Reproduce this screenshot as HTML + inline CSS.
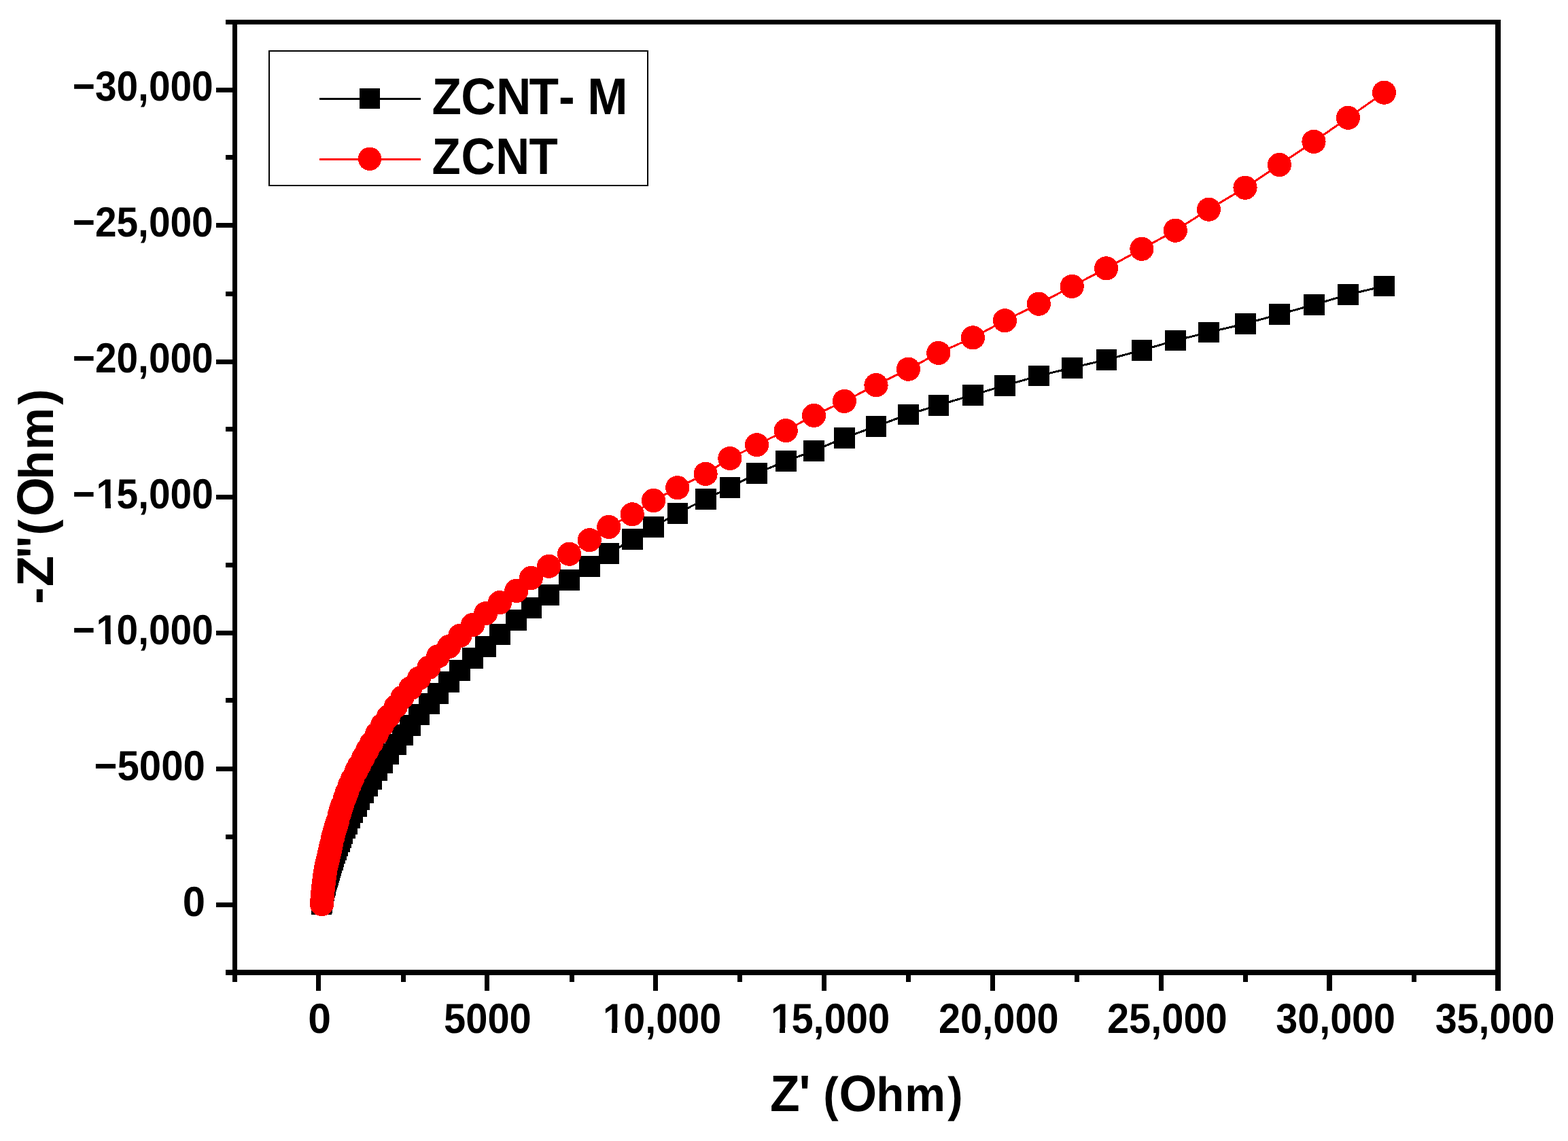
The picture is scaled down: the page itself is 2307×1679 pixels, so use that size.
<!DOCTYPE html>
<html lang="en"><head><meta charset="utf-8"><title>Nyquist plot: ZCNT-M vs ZCNT</title>
<style>
html,body{margin:0;padding:0;background:#fff}
svg{display:block}
svg text{font-family:"Liberation Sans",Arial,Helvetica,sans-serif;font-weight:bold;fill:#000}
</style></head>
<body>
<svg width="2307" height="1679" viewBox="0 0 2307 1679" shape-rendering="crispEdges" text-rendering="geometricPrecision">
<rect x="0" y="0" width="2307" height="1679" fill="#fff"/>
<g id="frame">
<rect x="342" y="29" width="7" height="1406" fill="#000"/>
<rect x="2200" y="29" width="8" height="1406" fill="#000"/>
<rect x="342" y="29" width="1866" height="7" fill="#000"/>
<rect x="342" y="1427" width="1866" height="8" fill="#000"/>
</g>
<g id="ticks">
<rect x="332" y="29" width="10" height="7" fill="#000"/>
<rect x="318" y="129" width="24" height="7" fill="#000"/>
<rect x="332" y="228" width="10" height="7" fill="#000"/>
<rect x="318" y="328" width="24" height="7" fill="#000"/>
<rect x="332" y="429" width="10" height="7" fill="#000"/>
<rect x="318" y="529" width="24" height="7" fill="#000"/>
<rect x="332" y="628" width="10" height="7" fill="#000"/>
<rect x="318" y="728" width="24" height="7" fill="#000"/>
<rect x="332" y="828" width="10" height="7" fill="#000"/>
<rect x="318" y="928" width="24" height="7" fill="#000"/>
<rect x="332" y="1027" width="10" height="7" fill="#000"/>
<rect x="318" y="1128" width="24" height="7" fill="#000"/>
<rect x="332" y="1228" width="10" height="7" fill="#000"/>
<rect x="318" y="1328" width="24" height="7" fill="#000"/>
<rect x="332" y="1427" width="10" height="8" fill="#000"/>
<rect x="342" y="1435" width="7" height="10" fill="#000"/>
<rect x="465" y="1435" width="7" height="23" fill="#000"/>
<rect x="590" y="1435" width="7" height="10" fill="#000"/>
<rect x="713" y="1435" width="7" height="23" fill="#000"/>
<rect x="838" y="1435" width="7" height="10" fill="#000"/>
<rect x="961" y="1435" width="7" height="23" fill="#000"/>
<rect x="1085" y="1435" width="7" height="10" fill="#000"/>
<rect x="1209" y="1435" width="7" height="23" fill="#000"/>
<rect x="1333" y="1435" width="7" height="10" fill="#000"/>
<rect x="1457" y="1435" width="7" height="23" fill="#000"/>
<rect x="1581" y="1435" width="7" height="10" fill="#000"/>
<rect x="1705" y="1435" width="7" height="23" fill="#000"/>
<rect x="1829" y="1435" width="7" height="10" fill="#000"/>
<rect x="1952" y="1435" width="8" height="23" fill="#000"/>
<rect x="2077" y="1435" width="7" height="10" fill="#000"/>
<rect x="2200" y="1435" width="8" height="23" fill="#000"/>
</g>
<g id="tick-labels">
<text transform="matrix(0.56826 0 0 0.61831 106.73 148.18)" font-size="100" xml:space="preserve">−30,000</text>
<text transform="matrix(0.56826 0 0 0.61831 106.73 348.18)" font-size="100" xml:space="preserve">−25,000</text>
<text transform="matrix(0.56826 0 0 0.61831 106.73 548.18)" font-size="100" xml:space="preserve">−20,000</text>
<text transform="matrix(0.56826 0 0 0.61831 106.73 748.18)" font-size="100" xml:space="preserve" dx="0 3 -3">−15,000</text>
<text transform="matrix(0.56826 0 0 0.61831 106.73 947.88)" font-size="100" xml:space="preserve" dx="0 3 -3">−10,000</text>
<text transform="matrix(0.58095 0 0 0.61831 138.58 1147.68)" font-size="100" xml:space="preserve">−5000</text>
<text transform="matrix(0.59789 0 0 0.61831 268.71 1347.58)" font-size="100" xml:space="preserve">0</text>
<text transform="matrix(0.60632 0 0 0.61831 453.17 1520.38)" font-size="100" xml:space="preserve">0</text>
<text transform="matrix(0.57865 0 0 0.61831 653.06 1520.38)" font-size="100" xml:space="preserve">5000</text>
<text transform="matrix(0.57504 0 0 0.61831 885.24 1520.38)" font-size="100" xml:space="preserve" dx="3 -3">10,000</text>
<text transform="matrix(0.57880 0 0 0.61831 1132.20 1520.38)" font-size="100" xml:space="preserve" dx="3 -3">15,000</text>
<text transform="matrix(0.57755 0 0 0.61831 1380.98 1520.38)" font-size="100" xml:space="preserve">20,000</text>
<text transform="matrix(0.57789 0 0 0.61831 1628.98 1520.38)" font-size="100" xml:space="preserve">25,000</text>
<text transform="matrix(0.57396 0 0 0.61831 1877.37 1520.38)" font-size="100" xml:space="preserve">30,000</text>
<text transform="matrix(0.57462 0 0 0.61831 2111.66 1520.38)" font-size="100" xml:space="preserve">35,000</text>
<g id="glyph-trim" fill="#fff"><rect x="143.53" y="740.06" width="11.35" height="11.12"/><rect x="162.68" y="740.06" width="10.63" height="11.12"/><rect x="143.53" y="939.76" width="11.35" height="11.12"/><rect x="162.68" y="939.76" width="10.63" height="11.12"/><rect x="888.90" y="1512.26" width="11.48" height="11.12"/><rect x="908.27" y="1512.26" width="10.75" height="11.12"/><rect x="1135.89" y="1512.26" width="11.56" height="11.12"/><rect x="1155.39" y="1512.26" width="10.82" height="11.12"/></g>
</g>
<g id="legend-labels">
<text transform="matrix(0.71190 0 0 0.76058 635.56 167.90)" font-size="100" xml:space="preserve" dx="0 -1 0.2 -4.1 5.6 0 -1.5">ZCNT- M</text>
<text transform="matrix(0.69184 0 0 0.75620 635.62 256.00)" font-size="100" xml:space="preserve" dx="0 1 1 -1">ZCNT</text>
</g>
<g id="axis-titles">
<text transform="matrix(0.71491 0 0 0.75620 1133.06 1634.80)" font-size="100" xml:space="preserve" dx="0 -1.6 0 -1.6 1.1 -1.2 1.2 4.6">Z' <tspan font-size="94">(</tspan>O<tspan font-size="94">hm)</tspan></text>
<text transform="matrix(0 -0.74526 0.75912 0 78.30 889.08)" font-size="100" xml:space="preserve" dx="0 1.5 -5.5 -3.1 1.0 6.1 -5.3 1.3 5.6">-Z''<tspan font-size="94">(</tspan>O<tspan font-size="94">hm)</tspan></text>
</g>
<g id="legend">
<rect x="396" y="75" width="557" height="197.5" fill="none" stroke="#000" stroke-width="2"/>
<rect x="470" y="143.5" width="149" height="3" fill="#000"/>
<rect x="529" y="130" width="30" height="30" fill="#000"/>
<rect x="470" y="232.5" width="149" height="3" fill="#f00"/>
<circle cx="544" cy="233.8" r="17.2" fill="#f00"/>
</g>
<g id="series-zcnt-m">
<polyline points="2036.5,421.0 1983.6,433.4 1933.4,448.4 1882.6,462.4 1832.5,476.3 1778.5,488.9 1729.5,501.0 1680.1,515.3 1628.0,529.3 1577.2,541.2 1528.3,553.1 1478.4,567.2 1431.4,581.2 1380.8,596.2 1336.4,609.8 1289.0,627.2 1242.5,644.2 1197.6,663.3 1156.5,678.4 1113.5,696.4 1074.0,717.4 1038.4,734.3 996.9,755.2 961.6,775.3 930.7,793.3 896.0,814.5 867.5,833.3 837.5,853.4 807.6,875.3 781.8,894.5 759.5,912.4 735.6,933.4 714.5,951.3 695.5,968.5 676.6,986.5 660.4,1003.2 644.4,1020.2 631.4,1035.2 616.4,1051.2 603.5,1067.2 592.5,1081.5 582.4,1095.2 571.5,1109.3 562.5,1122.4 554.5,1133.3 546.5,1146.4 540.4,1156.3 534.4,1166.4 528.5,1176.3 524.5,1186.3 518.5,1195.3 514.4,1203.2 510.5,1212.2 507.4,1218.2 503.5,1226.8 501.5,1232.4 499.5,1238.3 496.5,1244.8 494.5,1250.5 492.4,1255.4 490.5,1260.4 489.5,1265.4 487.5,1269.6 486.5,1273.5 485.4,1276.7 484.5,1280.5 483.5,1283.6 482.4,1287.7 481.5,1290.5 480.5,1294.0 479.8,1297.0 479.0,1300.0 478.3,1303.0 477.7,1306.0 477.1,1308.5 476.5,1311.0 476.0,1313.5 475.5,1316.0 475.0,1318.0 474.6,1320.0 474.2,1322.0 474.0,1324.0 473.7,1325.5 473.5,1327.0 473.3,1328.3 473.1,1329.3 473.0,1330.5" fill="none" stroke="#000" stroke-width="3"/>
<g fill="#000"><rect x="2021.2" y="405.7" width="30.6" height="30.6"/><rect x="1968.3" y="418.1" width="30.6" height="30.6"/><rect x="1918.1" y="433.1" width="30.6" height="30.6"/><rect x="1867.3" y="447.1" width="30.6" height="30.6"/><rect x="1817.2" y="461.0" width="30.6" height="30.6"/><rect x="1763.2" y="473.6" width="30.6" height="30.6"/><rect x="1714.2" y="485.7" width="30.6" height="30.6"/><rect x="1664.8" y="500.0" width="30.6" height="30.6"/><rect x="1612.7" y="514.0" width="30.6" height="30.6"/><rect x="1561.9" y="525.9" width="30.6" height="30.6"/><rect x="1513.0" y="537.8" width="30.6" height="30.6"/><rect x="1463.1" y="551.9" width="30.6" height="30.6"/><rect x="1416.1" y="565.9" width="30.6" height="30.6"/><rect x="1365.5" y="580.9" width="30.6" height="30.6"/><rect x="1321.1" y="594.5" width="30.6" height="30.6"/><rect x="1273.7" y="611.9" width="30.6" height="30.6"/><rect x="1227.2" y="628.9" width="30.6" height="30.6"/><rect x="1182.3" y="648.0" width="30.6" height="30.6"/><rect x="1141.2" y="663.1" width="30.6" height="30.6"/><rect x="1098.2" y="681.1" width="30.6" height="30.6"/><rect x="1058.7" y="702.1" width="30.6" height="30.6"/><rect x="1023.1" y="719.0" width="30.6" height="30.6"/><rect x="981.6" y="739.9" width="30.6" height="30.6"/><rect x="946.3" y="760.0" width="30.6" height="30.6"/><rect x="915.4" y="778.0" width="30.6" height="30.6"/><rect x="880.7" y="799.2" width="30.6" height="30.6"/><rect x="852.2" y="818.0" width="30.6" height="30.6"/><rect x="822.2" y="838.1" width="30.6" height="30.6"/><rect x="792.3" y="860.0" width="30.6" height="30.6"/><rect x="766.5" y="879.2" width="30.6" height="30.6"/><rect x="744.2" y="897.1" width="30.6" height="30.6"/><rect x="720.3" y="918.1" width="30.6" height="30.6"/><rect x="699.2" y="936.0" width="30.6" height="30.6"/><rect x="680.2" y="953.2" width="30.6" height="30.6"/><rect x="661.3" y="971.2" width="30.6" height="30.6"/><rect x="645.1" y="987.9" width="30.6" height="30.6"/><rect x="629.1" y="1004.9" width="30.6" height="30.6"/><rect x="616.1" y="1019.9" width="30.6" height="30.6"/><rect x="601.1" y="1035.9" width="30.6" height="30.6"/><rect x="588.2" y="1051.9" width="30.6" height="30.6"/><rect x="577.2" y="1066.2" width="30.6" height="30.6"/><rect x="567.1" y="1079.9" width="30.6" height="30.6"/><rect x="556.2" y="1094.0" width="30.6" height="30.6"/><rect x="547.2" y="1107.1" width="30.6" height="30.6"/><rect x="539.2" y="1118.0" width="30.6" height="30.6"/><rect x="531.2" y="1131.1" width="30.6" height="30.6"/><rect x="525.1" y="1141.0" width="30.6" height="30.6"/><rect x="519.1" y="1151.1" width="30.6" height="30.6"/><rect x="513.2" y="1161.0" width="30.6" height="30.6"/><rect x="509.2" y="1171.0" width="30.6" height="30.6"/><rect x="503.2" y="1180.0" width="30.6" height="30.6"/><rect x="499.1" y="1187.9" width="30.6" height="30.6"/><rect x="495.2" y="1196.9" width="30.6" height="30.6"/><rect x="492.1" y="1202.9" width="30.6" height="30.6"/><rect x="488.2" y="1211.5" width="30.6" height="30.6"/><rect x="486.2" y="1217.1" width="30.6" height="30.6"/><rect x="484.2" y="1223.0" width="30.6" height="30.6"/><rect x="481.2" y="1229.5" width="30.6" height="30.6"/><rect x="479.2" y="1235.2" width="30.6" height="30.6"/><rect x="477.1" y="1240.1" width="30.6" height="30.6"/><rect x="475.2" y="1245.1" width="30.6" height="30.6"/><rect x="474.2" y="1250.1" width="30.6" height="30.6"/><rect x="472.2" y="1254.3" width="30.6" height="30.6"/><rect x="471.2" y="1258.2" width="30.6" height="30.6"/><rect x="470.1" y="1261.4" width="30.6" height="30.6"/><rect x="469.2" y="1265.2" width="30.6" height="30.6"/><rect x="468.2" y="1268.3" width="30.6" height="30.6"/><rect x="467.1" y="1272.4" width="30.6" height="30.6"/><rect x="466.2" y="1275.2" width="30.6" height="30.6"/><rect x="465.2" y="1278.7" width="30.6" height="30.6"/><rect x="464.5" y="1281.7" width="30.6" height="30.6"/><rect x="463.7" y="1284.7" width="30.6" height="30.6"/><rect x="463.0" y="1287.7" width="30.6" height="30.6"/><rect x="462.4" y="1290.7" width="30.6" height="30.6"/><rect x="461.8" y="1293.2" width="30.6" height="30.6"/><rect x="461.2" y="1295.7" width="30.6" height="30.6"/><rect x="460.7" y="1298.2" width="30.6" height="30.6"/><rect x="460.2" y="1300.7" width="30.6" height="30.6"/><rect x="459.7" y="1302.7" width="30.6" height="30.6"/><rect x="459.3" y="1304.7" width="30.6" height="30.6"/><rect x="458.9" y="1306.7" width="30.6" height="30.6"/><rect x="458.7" y="1308.7" width="30.6" height="30.6"/><rect x="458.4" y="1310.2" width="30.6" height="30.6"/><rect x="458.2" y="1311.7" width="30.6" height="30.6"/><rect x="458.0" y="1313.0" width="30.6" height="30.6"/><rect x="457.8" y="1314.0" width="30.6" height="30.6"/><rect x="457.7" y="1315.2" width="30.6" height="30.6"/></g>
</g>
<g id="series-zcnt">
<polyline points="2036.5,136.2 1983.4,173.3 1933.0,208.4 1882.4,242.5 1832.0,276.2 1778.5,308.2 1729.3,339.2 1679.9,366.3 1627.6,394.9 1577.2,421.4 1528.3,447.2 1478.4,471.7 1431.4,496.9 1380.8,519.4 1336.4,543.2 1289.0,566.7 1242.4,590.4 1197.5,611.4 1156.2,633.6 1113.5,654.7 1073.9,674.5 1038.1,697.4 996.8,717.7 961.5,736.5 930.2,756.8 895.7,775.4 867.3,794.7 837.6,815.2 807.6,833.3 781.4,850.5 759.8,869.4 735.5,886.6 714.6,902.6 695.6,919.4 676.9,935.4 660.6,951.5 644.5,965.9 630.9,982.3 616.5,998.1 603.8,1012.9 591.9,1026.3 582.4,1039.5 571.5,1054.5 562.5,1067.0 554.5,1080.0 546.5,1093.5 540.4,1104.2 534.4,1115.3 528.5,1126.4 524.5,1134.0 518.5,1146.3 514.4,1155.5 510.5,1165.7 507.4,1174.3 503.5,1185.1 501.5,1191.1 499.5,1198.1 496.5,1208.9 494.5,1215.4 492.4,1222.3 490.5,1229.2 489.5,1233.3 487.5,1242.2 486.5,1246.7 485.4,1251.8 484.5,1255.8 483.5,1259.9 482.4,1264.6 481.5,1268.4 480.5,1272.8 479.8,1276.1 479.0,1280.5 478.3,1284.8 477.7,1288.7 477.1,1293.0 476.5,1297.6 476.0,1301.8 475.5,1306.4 475.0,1311.5 474.6,1316.0 474.2,1320.6 474.0,1323.1 473.7,1326.8 473.5,1329.3 473.4,1330.6 473.4,1330.6 473.4,1330.6" fill="none" stroke="#f00" stroke-width="3"/>
<g fill="#f00"><circle cx="2036.5" cy="136.2" r="17.6"/><circle cx="1983.4" cy="173.3" r="17.6"/><circle cx="1933.0" cy="208.4" r="17.6"/><circle cx="1882.4" cy="242.5" r="17.6"/><circle cx="1832.0" cy="276.2" r="17.6"/><circle cx="1778.5" cy="308.2" r="17.6"/><circle cx="1729.3" cy="339.2" r="17.6"/><circle cx="1679.9" cy="366.3" r="17.6"/><circle cx="1627.6" cy="394.9" r="17.6"/><circle cx="1577.2" cy="421.4" r="17.6"/><circle cx="1528.3" cy="447.2" r="17.6"/><circle cx="1478.4" cy="471.7" r="17.6"/><circle cx="1431.4" cy="496.9" r="17.6"/><circle cx="1380.8" cy="519.4" r="17.6"/><circle cx="1336.4" cy="543.2" r="17.6"/><circle cx="1289.0" cy="566.7" r="17.6"/><circle cx="1242.4" cy="590.4" r="17.6"/><circle cx="1197.5" cy="611.4" r="17.6"/><circle cx="1156.2" cy="633.6" r="17.6"/><circle cx="1113.5" cy="654.7" r="17.6"/><circle cx="1073.9" cy="674.5" r="17.6"/><circle cx="1038.1" cy="697.4" r="17.6"/><circle cx="996.8" cy="717.7" r="17.6"/><circle cx="961.5" cy="736.5" r="17.6"/><circle cx="930.2" cy="756.8" r="17.6"/><circle cx="895.7" cy="775.4" r="17.6"/><circle cx="867.3" cy="794.7" r="17.6"/><circle cx="837.6" cy="815.2" r="17.6"/><circle cx="807.6" cy="833.3" r="17.6"/><circle cx="781.4" cy="850.5" r="17.6"/><circle cx="759.8" cy="869.4" r="17.6"/><circle cx="735.5" cy="886.6" r="17.6"/><circle cx="714.6" cy="902.6" r="17.6"/><circle cx="695.6" cy="919.4" r="17.6"/><circle cx="676.9" cy="935.4" r="17.6"/><circle cx="660.6" cy="951.5" r="17.6"/><circle cx="644.5" cy="965.9" r="17.6"/><circle cx="630.9" cy="982.3" r="17.6"/><circle cx="616.5" cy="998.1" r="17.6"/><circle cx="603.8" cy="1012.9" r="17.6"/><circle cx="591.9" cy="1026.3" r="17.6"/><circle cx="582.4" cy="1039.5" r="17.6"/><circle cx="571.5" cy="1054.5" r="17.6"/><circle cx="562.5" cy="1067.0" r="17.6"/><circle cx="554.5" cy="1080.0" r="17.6"/><circle cx="546.5" cy="1093.5" r="17.6"/><circle cx="540.4" cy="1104.2" r="17.6"/><circle cx="534.4" cy="1115.3" r="17.6"/><circle cx="528.5" cy="1126.4" r="17.6"/><circle cx="524.5" cy="1134.0" r="17.6"/><circle cx="518.5" cy="1146.3" r="17.6"/><circle cx="514.4" cy="1155.5" r="17.6"/><circle cx="510.5" cy="1165.7" r="17.6"/><circle cx="507.4" cy="1174.3" r="17.6"/><circle cx="503.5" cy="1185.1" r="17.6"/><circle cx="501.5" cy="1191.1" r="17.6"/><circle cx="499.5" cy="1198.1" r="17.6"/><circle cx="496.5" cy="1208.9" r="17.6"/><circle cx="494.5" cy="1215.4" r="17.6"/><circle cx="492.4" cy="1222.3" r="17.6"/><circle cx="490.5" cy="1229.2" r="17.6"/><circle cx="489.5" cy="1233.3" r="17.6"/><circle cx="487.5" cy="1242.2" r="17.6"/><circle cx="486.5" cy="1246.7" r="17.6"/><circle cx="485.4" cy="1251.8" r="17.6"/><circle cx="484.5" cy="1255.8" r="17.6"/><circle cx="483.5" cy="1259.9" r="17.6"/><circle cx="482.4" cy="1264.6" r="17.6"/><circle cx="481.5" cy="1268.4" r="17.6"/><circle cx="480.5" cy="1272.8" r="17.6"/><circle cx="479.8" cy="1276.1" r="17.6"/><circle cx="479.0" cy="1280.5" r="17.6"/><circle cx="478.3" cy="1284.8" r="17.6"/><circle cx="477.7" cy="1288.7" r="17.6"/><circle cx="477.1" cy="1293.0" r="17.6"/><circle cx="476.5" cy="1297.6" r="17.6"/><circle cx="476.0" cy="1301.8" r="17.6"/><circle cx="475.5" cy="1306.4" r="17.6"/><circle cx="475.0" cy="1311.5" r="17.6"/><circle cx="474.6" cy="1316.0" r="17.6"/><circle cx="474.2" cy="1320.6" r="17.6"/><circle cx="474.0" cy="1323.1" r="17.6"/><circle cx="473.7" cy="1326.8" r="17.6"/><circle cx="473.5" cy="1329.3" r="17.6"/><circle cx="473.4" cy="1330.6" r="17.6"/><circle cx="473.4" cy="1330.6" r="17.6"/><circle cx="473.4" cy="1330.6" r="17.6"/></g>
</g>
</svg>
</body></html>
